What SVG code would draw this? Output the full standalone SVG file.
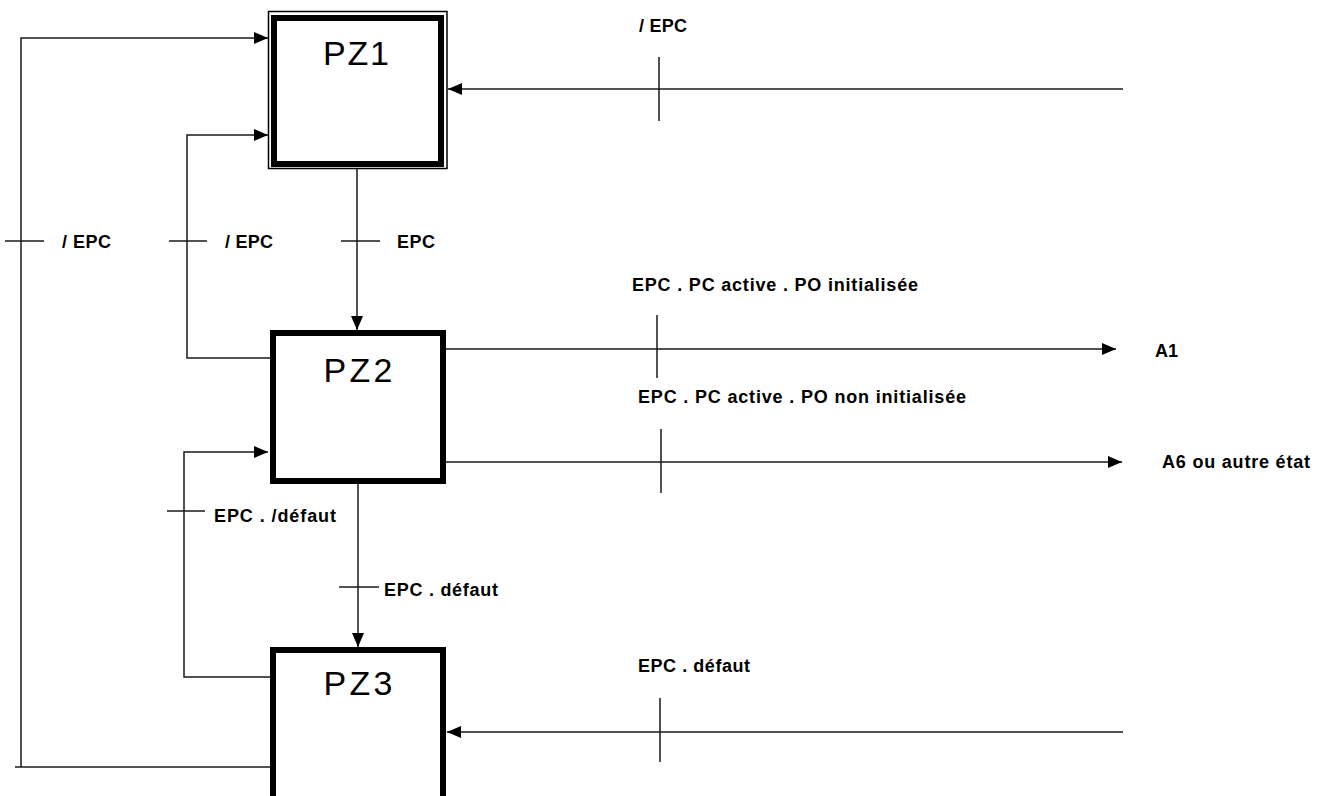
<svg xmlns="http://www.w3.org/2000/svg" width="1327" height="796" viewBox="0 0 1327 796">
<defs>
<style>
.ln{fill:none;stroke:#1a1a1a;stroke-width:1.5}
.tk{fill:none;stroke:#1a1a1a;stroke-width:1.5}
.box{fill:#fff;stroke:#000;stroke-width:6}
.lbl{font-family:"Liberation Sans",Arial,sans-serif;font-weight:bold;font-size:18px;fill:#000}
.nm{font-family:"Liberation Sans",Arial,sans-serif;font-size:34px;fill:#000;text-anchor:middle}
</style>
<marker id="ah" markerUnits="userSpaceOnUse" markerWidth="16" markerHeight="14" refX="14" refY="6" orient="auto">
<path d="M0,0 L14,6 L0,12 Z" fill="#000"/>
</marker>
</defs>
<rect width="1327" height="796" fill="#fff"/>
<g id="connectors">
<path class="ln" d="M15,767 H270"/>
<path class="ln" d="M21,767 V38 H268" marker-end="url(#ah)"/>
<path class="ln" d="M270,358 H187 V135 H268" marker-end="url(#ah)"/>
<path class="ln" d="M270,677 H184 V452 H268" marker-end="url(#ah)"/>
<path class="ln" d="M357,168 V330" marker-end="url(#ah)"/>
<path class="ln" d="M358,484 V647" marker-end="url(#ah)"/>
<path class="ln" d="M1123,89 H448" marker-end="url(#ah)"/>
<path class="ln" d="M446,349 H1116" marker-end="url(#ah)"/>
<path class="ln" d="M446,462 H1122" marker-end="url(#ah)"/>
<path class="ln" d="M1123,732 H447" marker-end="url(#ah)"/>
<path class="tk" d="M5,241 H44 M169,241 H207 M341,241 H380 M659,57 V121 M657,315 V378 M661,429 V493 M167,511 H205 M339,587 H379 M660,698 V762"/>
<text class="lbl" x="62" y="248" textLength="49">/ EPC</text>
<text class="lbl" x="225" y="248" textLength="48">/ EPC</text>
<text class="lbl" x="397" y="248" textLength="38">EPC</text>
<text class="lbl" x="639" y="32" textLength="48">/ EPC</text>
<text class="lbl" x="632" y="291" textLength="286">EPC . PC active . PO initialisée</text>
<text class="lbl" x="638" y="403" textLength="328">EPC . PC active . PO non initialisée</text>
<text class="lbl" x="1155" y="357" textLength="23">A1</text>
<text class="lbl" x="1162" y="468" textLength="148">A6 ou autre état</text>
<text class="lbl" x="214" y="522" textLength="122">EPC . /défaut</text>
<text class="lbl" x="384" y="596" textLength="114">EPC . défaut</text>
<text class="lbl" x="638" y="672" textLength="112">EPC . défaut</text>
</g>
<g id="PZ1">
<rect x="268.5" y="11.5" width="178.5" height="157" fill="#fff" stroke="#000" stroke-width="1.5"/>
<rect class="box" x="274" y="18" width="167" height="146" stroke-width="6.5"/>
<text class="nm" x="356" y="65" textLength="66">PZ1</text>
</g>
<g id="PZ2">
<rect class="box" x="273" y="333" width="170" height="148"/>
<text class="nm" x="358" y="382" textLength="69">PZ2</text>
</g>
<g id="PZ3">
<rect class="box" x="273" y="650" width="170" height="200"/>
<text class="nm" x="358" y="695" textLength="69">PZ3</text>
</g>
</svg>
